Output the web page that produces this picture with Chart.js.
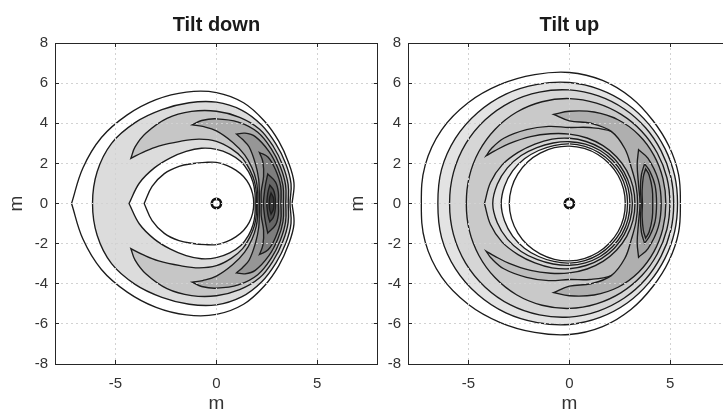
<!DOCTYPE html>
<html>
<head>
<meta charset="utf-8">
<script src="https://cdn.jsdelivr.net/npm/chart.js@4.4.1/dist/chart.umd.min.js"></script>
<style>
  html, body { margin: 0; padding: 0; background: #ffffff; overflow: hidden; width: 723px; height: 417px; }
  .panel { position: absolute; top: 0; }
</style>
</head>
<body>
<div class="panel" style="left:0px"><canvas id="down" width="385" height="417" style="width:385px;height:417px"></canvas></div>
<div class="panel" style="left:342px"><canvas id="up" width="396" height="417" style="width:396px;height:417px"></canvas></div>
<script>
// Polar sampling angles (degrees) for the upper half; the lower half is the mirror image.
const angles = [0, 15, 30, 45, 60, 75, 90, 105, 120, 135, 150, 165, 180];

// Tick positions (m)
const xTicks = [-5, 0, 5];
const yTicks = [-8, -6, -4, -2, 0, 2, 4, 6, 8];

// Source position
const sourcePos = [{ x: 0, y: 0 }];

// ---- Tilt down: closed rings (radius in m at each angle) ----
const downRingOuter = [
  [3.75, 3.98, 4.12, 4.38, 4.75, 5.20, 5.53, 5.75, 5.98, 6.25, 6.58, 6.85, 7.18],
  [3.65, 3.83, 3.97, 4.18, 4.50, 4.82, 5.05, 5.20, 5.40, 5.70, 6.00, 6.12, 6.14]
];
const downRingInner = [
  [1.85, 1.86, 1.88, 1.90, 1.92, 1.97, 2.05, 2.12, 2.30, 2.62, 2.98, 3.30, 3.58],
  [1.92, 1.98, 2.10, 2.25, 2.42, 2.55, 2.70, 2.85, 3.00, 3.22, 3.55, 3.95, 4.33]
];
// angles (0 or 180) where a ring comes to a point
const downOuterPointed = [[0, 180], []];
const downInnerPointed = [[180], [180]];
const downRingShade = ['#ffffff', '#dcdcdc'];

// ---- Tilt down: crescent bands (angle list ends at the horn tip) ----
const downBandAngles = [
  [0, 15, 30, 45, 60, 75, 90, 105, 120, 135, 145, 152],
  [0, 15, 30, 45, 60, 75, 90, 100, 107],
  [0, 15, 30, 45, 60, 68, 74],
  [0, 15, 30, 42, 50],
  [0, 10, 20, 30],
  [0, 8, 14, 19],
  [0, 6, 11]
];
const downBandOuter = [
  [3.56, 3.68, 3.80, 4.00, 4.28, 4.45, 4.60, 4.75, 4.90, 4.95, 4.92, 4.80],
  [3.44, 3.55, 3.66, 3.85, 4.10, 4.20, 4.22, 4.20, 4.10],
  [3.32, 3.42, 3.52, 3.68, 3.85, 3.78, 3.60],
  [3.20, 3.30, 3.38, 3.45, 3.32],
  [3.07, 3.12, 3.12, 2.94],
  [2.93, 2.93, 2.90, 2.80],
  [2.85, 2.84, 2.76]
];
const downBandInner = [
  [1.98, 2.05, 2.18, 2.35, 2.60, 2.83, 3.10, 3.32, 3.58, 4.05, 4.45, 4.80],
  [2.05, 2.12, 2.28, 2.50, 2.80, 3.15, 3.62, 3.90, 4.10],
  [2.13, 2.20, 2.42, 2.75, 3.25, 3.45, 3.60],
  [2.22, 2.30, 2.70, 3.10, 3.32],
  [2.33, 2.40, 2.58, 2.94],
  [2.50, 2.55, 2.65, 2.80],
  [2.62, 2.65, 2.76]
];
const downBandShade = ['#c6c6c6', '#aeaeae', '#969696', '#7e7e7e', '#666666', '#4e4e4e', '#363636'];

// ---- Tilt up: closed rings ----
const upRingOuter = [
  [5.50, 5.60, 5.70, 5.85, 6.10, 6.35, 6.53, 6.65, 6.85, 7.10, 7.32, 7.40, 7.34],
  [5.36, 5.40, 5.47, 5.58, 5.73, 5.88, 6.03, 6.15, 6.30, 6.42, 6.52, 6.56, 6.52],
  [5.17, 5.20, 5.25, 5.34, 5.44, 5.55, 5.66, 5.75, 5.84, 5.90, 5.94, 5.95, 5.94],
  [4.98, 5.00, 5.03, 5.08, 5.13, 5.18, 5.23, 5.25, 5.25, 5.22, 5.18, 5.14, 5.11]
];
const upRingInner = [
  [2.77, 2.78, 2.79, 2.80, 2.82, 2.84, 2.86, 2.88, 2.90, 2.93, 2.95, 2.97, 2.98],
  [2.88, 2.89, 2.90, 2.91, 2.93, 2.95, 2.97, 2.99, 3.05, 3.15, 3.25, 3.33, 3.38],
  [3.00, 3.01, 3.02, 3.03, 3.05, 3.06, 3.08, 3.12, 3.22, 3.38, 3.55, 3.70, 3.80],
  [3.12, 3.12, 3.13, 3.15, 3.17, 3.20, 3.25, 3.32, 3.42, 3.60, 3.85, 4.05, 4.21]
];
const upOuterPointed = [[], [], [], []];
const upInnerPointed = [[], [], [], [180]];
const upRingShade = ['#ffffff', '#e3e3e3', '#d6d6d6', '#c9c9c9'];

// ---- Tilt up: crescent bands ----
const upBandAngles = [
  [0, 15, 30, 45, 60, 75, 90, 105, 120, 135, 145, 150],
  [0, 15, 30, 45, 60, 75, 90, 100],
  [0, 15, 30, 38],
  [0, 12, 22, 28],
  [0, 10, 20, 24.5]
];
const upBandOuter = [
  [4.30, 4.30, 4.28, 4.25, 4.15, 3.92, 3.79, 3.98, 4.25, 4.60, 4.74, 4.76],
  [4.78, 4.80, 4.83, 4.85, 4.82, 4.72, 4.60, 4.51],
  [4.55, 4.56, 4.50, 4.35],
  [4.32, 4.34, 4.30, 4.22],
  [4.13, 4.17, 4.20, 4.15]
];
const upBandInner = [
  [3.25, 3.26, 3.28, 3.30, 3.33, 3.38, 3.46, 3.60, 3.85, 4.22, 4.55, 4.76],
  [3.38, 3.42, 3.55, 3.88, 4.15, 4.14, 4.12, 4.51],
  [3.50, 3.55, 3.88, 4.35],
  [3.56, 3.60, 3.85, 4.22],
  [3.62, 3.66, 3.90, 4.15]
];
const upBandShade = ['#bdbdbd', '#afafaf', '#a3a3a3', '#999999', '#8c8c8c'];

const FAMILY = "'Liberation Sans', Arial, Helvetica, sans-serif";
const INK = '#262626';
const LINE = '#1c1c1c';

function polar(deg, r) {
  const a = deg * Math.PI / 180;
  return { x: r * Math.cos(a), y: r * Math.sin(a) };
}

// Closed curve around the origin (drawn as a loop). A repeated point gives a corner.
function closedCurve(ang, rad, pointed) {
  const pts = [];
  const last = ang.length - 1;
  for (let i = last; i >= 0; i--) {
    const p = polar(ang[i], rad[i]);
    pts.push(p);
    if ((i === last && pointed.includes(180)) || (i === 0 && pointed.includes(0))) pts.push({ x: p.x, y: p.y });
  }
  for (let i = 1; i < last; i++) pts.push(polar(-ang[i], rad[i]));
  return pts;
}

// C-shaped band symmetric about the x axis, pointed at both horn tips.
function crescent(ang, outer, inner) {
  const tip = ang.length - 1;
  const pts = [];
  const up = polar(ang[tip], outer[tip]);
  const lo = polar(-ang[tip], outer[tip]);
  pts.push(up, { x: up.x, y: up.y });
  for (let i = tip - 1; i >= 0; i--) pts.push(polar(ang[i], outer[i]));
  for (let i = 1; i < tip; i++) pts.push(polar(-ang[i], outer[i]));
  pts.push(lo, { x: lo.x, y: lo.y });
  for (let i = tip - 1; i >= 1; i--) pts.push(polar(-ang[i], inner[i]));
  for (let i = 0; i < tip; i++) pts.push(polar(ang[i], inner[i]));
  return pts;
}

// Filled contour layers painted from the outside in.
function contourSets(ringOuter, outerPointed, ringInner, innerPointed, ringShade, bandAng, bandOuter, bandInner, bandShade) {
  const layers = [];
  ringOuter.forEach((r, k) => layers.push({ pts: closedCurve(angles, r, outerPointed[k]), shade: ringShade[k] }));
  for (let k = ringInner.length - 1; k >= 0; k--) {
    layers.push({ pts: closedCurve(angles, ringInner[k], innerPointed[k]), shade: k === 0 ? '#ffffff' : ringShade[k - 1] });
  }
  bandAng.forEach((a, k) => layers.push({ pts: crescent(a, bandOuter[k], bandInner[k]), shade: bandShade[k] }));
  const n = layers.length;
  const sets = layers.map((l, i) => ({
    data: l.pts,
    closed: true,
    showLine: true,
    fill: 'shape',
    backgroundColor: l.shade,
    borderColor: LINE,
    borderWidth: 1.35,
    pointRadius: 0,
    tension: 0.38,
    order: n - i + 1
  }));
  sets.push({
    data: sourcePos,
    showLine: false,
    pointRadius: 4.6,
    pointBorderWidth: 2.6,
    pointBackgroundColor: '#ffffff',
    pointBorderColor: '#111111',
    order: 0
  });
  return sets;
}

// Turn each contour line into a closed loop so the spline wraps around smoothly.
const loopPlugin = {
  id: 'closedContours',
  afterDatasetsUpdate(chart) {
    chart.data.datasets.forEach((ds, i) => {
      if (!ds.closed) return;
      const el = chart.getDatasetMeta(i).dataset;
      if (!el) return;
      el._loop = true;
      el._fullLoop = true;
      el._segments = undefined;
      el._path = undefined;
      el._pointsUpdated = false;
    });
  }
};

function tickList(values) {
  return (s) => { s.ticks = values.map(v => ({ value: v })); };
}

function makeScales(yWidth, yTitlePad) {
  const tickFont = { family: FAMILY, size: 15 };
  const titleFont = { family: FAMILY, size: 19 };
  const gridColor = (c) => (c.tick && Math.abs(c.tick.value) === 8) ? 'rgba(0,0,0,0)' : '#d2d2d2';
  return {
    x: {
      type: 'linear', min: -8, max: 8, position: 'bottom',
      afterBuildTicks: tickList(xTicks),
      afterFit: (s) => { s.height = 53; },
      ticks: { font: tickFont, color: '#333333', padding: 15, maxRotation: 0 },
      grid: { color: gridColor, lineWidth: 1, z: 1, tickLength: -4, tickColor: INK, tickWidth: 1 },
      border: { display: true, color: INK, width: 1, dash: [2, 3], z: 2 },
      title: { display: true, text: 'm', font: titleFont, color: '#333333', padding: { top: 0, bottom: 2 } }
    },
    y: {
      type: 'linear', min: -8, max: 8, position: 'left',
      afterBuildTicks: tickList(yTicks),
      afterFit: (s) => { s.width = yWidth; },
      ticks: { font: tickFont, color: '#333333', padding: 11 },
      grid: { color: gridColor, lineWidth: 1, z: 1, tickLength: -4, tickColor: INK, tickWidth: 1 },
      border: { display: true, color: INK, width: 1, dash: [2, 3], z: 2 },
      title: { display: true, text: 'm', font: titleFont, color: '#333333', padding: { top: yTitlePad, bottom: 0 } }
    },
    xTop: {
      axis: 'x', type: 'linear', min: -8, max: 8, position: 'top',
      afterBuildTicks: tickList(xTicks),
      afterFit: (s) => { s.height = 0; },
      ticks: { display: false },
      grid: { drawOnChartArea: false, z: 1, tickLength: -4, tickColor: INK, tickWidth: 1 },
      border: { display: true, color: INK, width: 1, z: 2 }
    },
    yRight: {
      axis: 'y', type: 'linear', min: -8, max: 8, position: 'right',
      afterBuildTicks: tickList(yTicks),
      afterFit: (s) => { s.width = 0; },
      ticks: { display: false },
      grid: { drawOnChartArea: false, z: 1, tickLength: -4, tickColor: INK, tickWidth: 1 },
      border: { display: true, color: INK, width: 1, z: 2 }
    }
  };
}

function makeChart(id, titleText, datasets, yWidth, yTitlePad) {
  return new Chart(document.getElementById(id), {
    type: 'scatter',
    data: { datasets },
    plugins: [loopPlugin],
    options: {
      responsive: false,
      animation: false,
      devicePixelRatio: 1,
      events: [],
      layout: { padding: { left: 0, right: 7, top: 0, bottom: 0 } },
      plugins: {
        legend: { display: false },
        tooltip: { enabled: false },
        title: {
          display: true, text: titleText, fullSize: false, color: '#1a1a1a',
          font: { family: FAMILY, size: 20, weight: 'bold' },
          padding: { top: 13, bottom: 6 }
        }
      },
      scales: makeScales(yWidth, yTitlePad)
    }
  });
}

makeChart('down', 'Tilt down',
  contourSets(downRingOuter, downOuterPointed, downRingInner, downInnerPointed, downRingShade,
              downBandAngles, downBandOuter, downBandInner, downBandShade),
  55, 5);
makeChart('up', 'Tilt up',
  contourSets(upRingOuter, upOuterPointed, upRingInner, upInnerPointed, upRingShade,
              upBandAngles, upBandOuter, upBandInner, upBandShade),
  66, 4);
</script>
</body>
</html>
